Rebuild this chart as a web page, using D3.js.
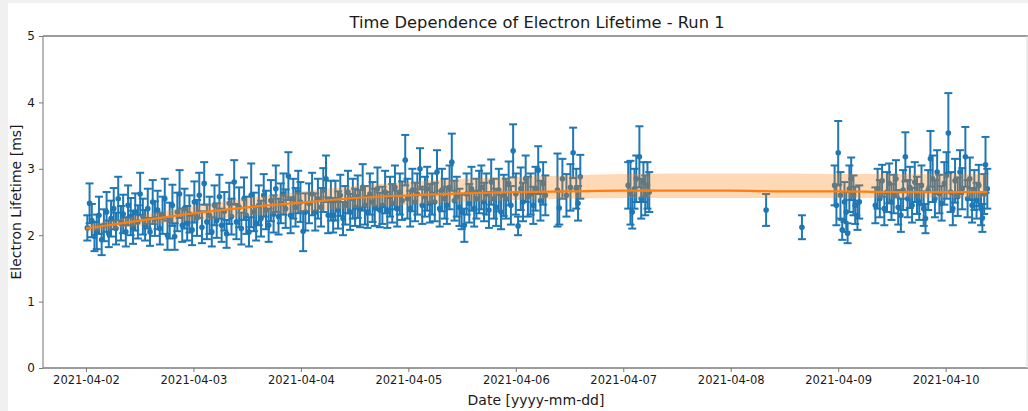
<!DOCTYPE html>
<html>
<head>
<meta charset="utf-8">
<script src="https://cdn.jsdelivr.net/npm/d3@7"></script>
<style>
  html, body { margin: 0; padding: 0; background: #f0f0f0; }
  svg { display: block; }
  text { font-family: "DejaVu Sans", sans-serif; fill: #1a1a1a; }
</style>
</head>
<body>
<svg id="chart" width="1028" height="411"></svg>
<script>
// Measurement times, hours after 2021-04-02 00:00 UTC
const hours = [
  0.3, 0.8, 1.3, 1.9, 2.4, 2.9, 3.5, 4.0, 4.6, 5.1,
  5.6, 6.2, 6.7, 7.2, 7.8, 8.3, 8.9, 9.4, 10.0, 10.5,
  11.0, 11.6, 12.1, 12.7, 13.2, 13.8, 14.3, 14.9, 15.4, 16.0,
  16.5, 17.1, 17.6, 18.2, 18.7, 19.3, 19.8, 20.4, 20.9, 21.5,
  22.0, 22.6, 23.1, 23.7, 24.2, 24.8, 25.3, 25.9, 26.4, 27.0,
  27.6, 28.1, 28.7, 29.2, 29.8, 30.3, 30.9, 31.4, 32.0, 32.5,
  33.1, 33.6, 34.2, 34.7, 35.3, 35.8, 36.4, 36.9, 37.5, 38.0,
  38.6, 39.1, 39.7, 40.2, 40.8, 41.3, 41.9, 42.4, 43.0, 43.5,
  44.1, 44.6, 45.2, 45.7, 46.3, 46.8, 47.4, 47.9, 48.5, 49.0,
  49.8, 50.5, 51.2, 51.8, 52.5, 53.0, 53.6, 54.1, 54.7,
  55.2, 55.7, 56.3, 56.8, 57.4, 57.9, 58.5, 59.0, 59.6, 60.1,
  60.7, 61.2, 61.8, 62.3, 62.9, 63.4, 64.0, 64.5, 65.1, 65.6,
  66.2, 66.8, 67.3, 67.9, 68.4, 69.0, 69.5, 70.1, 70.6, 71.3,
  71.8, 72.4, 72.9, 73.5, 74.0, 74.6, 75.1, 75.7, 76.2, 76.8,
  77.3, 77.9, 78.4, 79.0, 79.5, 80.1, 80.6, 81.2, 81.7, 82.3,
  82.8, 83.4, 83.9, 84.5, 85.0, 85.6, 86.1, 86.7, 87.2, 87.8,
  88.3, 88.9, 89.4, 90.0, 90.5, 91.1, 91.6, 92.2, 92.7, 93.3,
  93.8, 94.4, 94.9, 95.4, 96.0, 96.5, 97.1, 97.6, 98.2, 98.7,
  99.3, 99.9, 100.4, 101.0, 101.5, 102.1, 102.6,
  105.3, 105.7, 106.4, 107.3, 108.2, 108.8, 109.5, 109.9, 110.4,
  121.1, 121.6, 122.0, 122.5, 122.9, 123.6, 124.0, 124.5, 124.9, 125.4, 125.8,
  151.9, 159.9,
  167.2, 167.6, 168.0, 168.5, 168.9, 169.4, 169.8, 170.1, 170.5, 170.9, 171.4, 171.8, 172.3, 172.7,
  176.3, 176.8, 177.3, 177.8, 178.3, 178.9, 179.4, 179.9, 180.4, 180.9,
  181.4, 182.0, 182.5, 183.0, 183.5, 184.0, 184.5, 185.1, 185.6, 186.1,
  186.6, 187.1, 187.5, 188.1, 188.6, 189.1, 189.6, 190.1, 190.6, 191.1,
  191.7, 192.2, 192.6, 193.1, 193.6, 194.1, 194.7, 195.2, 195.7, 196.4,
  196.9, 197.4, 197.9, 198.4, 198.9, 199.4, 199.9, 200.2, 200.6, 200.9, 201.3
];

// Electron lifetime [ms]
const lifetime = [
  2.11, 2.48, 2.22, 1.98, 2.05, 2.30, 1.93, 2.15, 2.35, 2.02,
  2.25, 2.40, 2.10, 2.55, 2.18, 2.32, 2.05, 2.45, 2.28, 2.12,
  2.35, 2.20, 2.62, 2.28, 2.15, 2.40, 2.05, 2.50, 2.25, 2.38,
  2.10, 2.30, 2.55, 2.00, 2.22, 2.45, 1.98, 2.35, 2.62, 2.15,
  2.40, 2.18, 2.32, 2.08, 2.50, 2.26, 2.60, 2.12, 2.78, 2.20,
  2.30, 2.05, 2.45, 2.22, 2.58, 2.15, 2.36, 2.02, 2.48, 2.28,
  2.80, 2.20, 2.42, 2.10, 2.55, 2.30, 2.05, 2.60, 2.35, 2.18,
  2.45, 2.25, 2.60, 2.38, 2.15, 2.52, 2.32, 2.70, 2.28, 2.48,
  2.62, 2.40, 2.89, 2.30, 2.55, 2.42, 2.65, 2.50, 2.06, 2.35,
  2.48, 2.62, 2.35, 2.55, 2.42, 2.68, 2.85, 2.30, 2.52,
  2.30, 2.52, 2.38, 2.60, 2.25, 2.45, 2.65, 2.35, 2.55, 2.42,
  2.58, 2.40, 2.72, 2.45, 2.35, 2.62, 2.50, 2.42, 2.70, 2.38,
  2.45, 2.65, 2.38, 2.58, 2.48, 2.72, 2.40, 2.62, 2.52, 3.13,
  2.55, 2.40, 2.68, 2.50, 2.62, 3.00, 2.45, 2.58, 2.70, 2.48,
  2.62, 2.50, 2.95, 2.40, 2.68, 2.55, 2.45, 2.72, 3.10, 2.52,
  2.58, 2.42, 2.35, 2.15, 2.62, 2.48, 2.70, 2.40, 2.55, 2.65,
  2.72, 2.50, 2.62, 2.38, 2.80, 2.55, 2.42, 2.68, 2.35, 2.60,
  2.55, 2.78, 2.45, 3.27, 2.62, 2.14, 2.70, 2.50, 2.85, 2.58,
  2.62, 2.45, 2.70, 2.98, 2.52, 2.78, 2.60,
  2.68, 2.41, 2.85, 2.60, 2.72, 3.24, 2.70, 2.48, 2.88,
  2.75, 2.64, 2.35, 2.70, 2.85, 3.18, 2.55, 2.80, 2.60, 2.75, 2.65,
  2.38, 2.12,
  2.75, 2.45, 3.24, 2.60, 2.08, 2.50, 2.35, 2.03, 2.70, 2.85, 2.60, 2.45, 2.30, 2.50,
  2.45, 2.70, 2.55, 2.82, 2.40, 2.65, 2.78, 2.50, 2.62, 2.85,
  2.42, 2.30, 2.68, 3.18, 2.55, 2.72, 2.45, 2.80, 2.60, 2.50,
  2.75, 2.40, 2.25, 2.68, 3.15, 2.85, 2.55, 2.95, 2.62, 2.48,
  2.78, 2.90, 3.54, 2.65, 2.40, 2.82, 2.58, 2.95, 2.70, 3.18,
  2.55, 2.85, 2.45, 2.68, 2.52, 2.75, 2.40, 2.26, 2.62, 3.06, 2.70
];

// One-sigma uncertainty on each lifetime [ms]
const lifetimeErr = [
  0.19, 0.30, 0.25, 0.22, 0.26, 0.28, 0.23, 0.24, 0.30, 0.20,
  0.27, 0.31, 0.24, 0.33, 0.26, 0.29, 0.22, 0.30, 0.28, 0.25,
  0.28, 0.25, 0.32, 0.27, 0.23, 0.30, 0.21, 0.33, 0.26, 0.29,
  0.24, 0.28, 0.30, 0.22, 0.27, 0.31, 0.20, 0.29, 0.36, 0.25,
  0.30, 0.26, 0.28, 0.23, 0.31, 0.27, 0.34, 0.24, 0.32, 0.26,
  0.28, 0.22, 0.30, 0.26, 0.33, 0.25, 0.29, 0.21, 0.31, 0.27,
  0.33, 0.26, 0.30, 0.24, 0.32, 0.28, 0.22, 0.48, 0.29, 0.26,
  0.30, 0.27, 0.32, 0.29, 0.25, 0.31, 0.28, 0.35, 0.27, 0.30,
  0.31, 0.29, 0.36, 0.27, 0.30, 0.29, 0.32, 0.30, 0.30, 0.28,
  0.30, 0.32, 0.28, 0.30, 0.29, 0.33, 0.35, 0.27, 0.30,
  0.26, 0.30, 0.28, 0.31, 0.25, 0.29, 0.32, 0.27, 0.30, 0.28,
  0.32, 0.28, 0.35, 0.29, 0.24, 0.31, 0.30, 0.28, 0.32, 0.26,
  0.28, 0.32, 0.27, 0.30, 0.29, 0.33, 0.27, 0.31, 0.29, 0.38,
  0.30, 0.27, 0.32, 0.29, 0.31, 0.31, 0.28, 0.30, 0.33, 0.29,
  0.31, 0.29, 0.33, 0.27, 0.32, 0.30, 0.28, 0.33, 0.43, 0.30,
  0.30, 0.28, 0.26, 0.25, 0.31, 0.29, 0.33, 0.27, 0.30, 0.32,
  0.33, 0.29, 0.31, 0.27, 0.34, 0.30, 0.28, 0.32, 0.26, 0.31,
  0.30, 0.33, 0.29, 0.40, 0.31, 0.14, 0.32, 0.29, 0.35, 0.30,
  0.31, 0.28, 0.33, 0.36, 0.30, 0.32, 0.30,
  0.55, 0.25, 0.30, 0.32, 0.35, 0.38, 0.30, 0.26, 0.33,
  0.35, 0.48, 0.25, 0.30, 0.35, 0.46, 0.30, 0.30, 0.30, 0.35, 0.30,
  0.24, 0.18,
  0.30, 0.30, 0.48, 0.35, 0.15, 0.30, 0.30, 0.15, 0.35, 0.32, 0.30, 0.28, 0.22, 0.25,
  0.27, 0.30, 0.28, 0.24, 0.25, 0.30, 0.30, 0.27, 0.29, 0.28,
  0.26, 0.25, 0.30, 0.37, 0.28, 0.31, 0.26, 0.30, 0.28, 0.27,
  0.30, 0.26, 0.22, 0.30, 0.42, 0.35, 0.28, 0.33, 0.29, 0.26,
  0.32, 0.35, 0.60, 0.30, 0.25, 0.33, 0.29, 0.33, 0.31, 0.45,
  0.28, 0.32, 0.26, 0.30, 0.27, 0.31, 0.25, 0.21, 0.30, 0.42, 0.30
];

// Smoothed trend and its uncertainty band
const fitHours = [0, 12, 24, 36, 48, 60, 72, 84, 96, 108, 120, 132, 144, 156, 168, 180, 192, 201.3];
const fitValue = [2.10, 2.22, 2.33, 2.42, 2.49, 2.56, 2.60, 2.63, 2.65, 2.66, 2.67, 2.67, 2.67, 2.66, 2.66, 2.65, 2.65, 2.65];
const fitUpper = [2.15, 2.30, 2.44, 2.56, 2.66, 2.74, 2.80, 2.85, 2.88, 2.90, 2.92, 2.93, 2.93, 2.93, 2.92, 2.92, 2.92, 2.92];
const fitLower = [2.05, 2.14, 2.22, 2.29, 2.35, 2.41, 2.46, 2.50, 2.53, 2.55, 2.56, 2.56, 2.56, 2.56, 2.56, 2.56, 2.56, 2.56];

const dayTicks = ["2021-04-02", "2021-04-03", "2021-04-04", "2021-04-05", "2021-04-06",
                  "2021-04-07", "2021-04-08", "2021-04-09", "2021-04-10"];
const yTicks = [0, 1, 2, 3, 4, 5];

const titleText = "Time Dependence of Electron Lifetime - Run 1";
const xLabel = "Date [yyyy-mm-dd]";
const yLabel = "Electron Lifetime [ms]";

const start = Date.UTC(2021, 3, 2);
const toDate = h => new Date(start + h * 3600e3);
const parseDay = d3.utcParse("%Y-%m-%d");

const plot = { left: 43, right: 1027, top: 36, bottom: 368 };
const blue = "#1f77b4", orange = "#ff7f0e";

const svg = d3.select("#chart");
svg.append("rect").attr("x", 8).attr("y", 3).attr("width", 1020).attr("height", 408).attr("fill", "#fff");

const x = d3.scaleUtc()
  .domain([new Date(Date.UTC(2021, 3, 1, 14, 24)), new Date(Date.UTC(2021, 3, 10, 18, 10))])
  .range([plot.left, plot.right]);
const y = d3.scaleLinear().domain([0, 5]).range([plot.bottom, plot.top]);

const points = hours.map((h, i) => ({ t: toDate(h), v: lifetime[i], e: lifetimeErr[i] }));

// Error bars with caps
const bars = svg.append("g").attr("stroke", blue).attr("stroke-width", 2).attr("fill", "none");
const capHalf = 4;
points.forEach(p => {
  const px = x(p.t), y0 = y(p.v - p.e), y1 = y(p.v + p.e);
  bars.append("line").attr("x1", px).attr("x2", px).attr("y1", y0).attr("y2", y1);
  bars.append("line").attr("x1", px - capHalf).attr("x2", px + capHalf).attr("y1", y0).attr("y2", y0);
  bars.append("line").attr("x1", px - capHalf).attr("x2", px + capHalf).attr("y1", y1).attr("y2", y1);
});
svg.append("g").attr("fill", blue)
  .selectAll("circle").data(points).join("circle")
  .attr("cx", p => x(p.t)).attr("cy", p => y(p.v)).attr("r", 2.8);

// Trend band and line
const fit = fitHours.map((h, i) => ({ t: toDate(h), v: fitValue[i], hi: fitUpper[i], lo: fitLower[i] }));
svg.append("path").datum(fit)
  .attr("fill", orange).attr("fill-opacity", 0.3)
  .attr("d", d3.area().curve(d3.curveMonotoneX).x(d => x(d.t)).y0(d => y(d.lo)).y1(d => y(d.hi)));
svg.append("path").datum(fit)
  .attr("fill", "none").attr("stroke", orange).attr("stroke-width", 2.2)
  .attr("d", d3.line().curve(d3.curveMonotoneX).x(d => x(d.t)).y(d => y(d.v)));

// Spines
svg.append("line").attr("x1", plot.left).attr("x2", plot.right + 1).attr("y1", plot.top).attr("y2", plot.top)
  .attr("stroke", "#3a3a3a").attr("stroke-width", 1.2);
svg.append("line").attr("x1", plot.left).attr("x2", plot.right + 1).attr("y1", plot.bottom).attr("y2", plot.bottom)
  .attr("stroke", "#3a3a3a").attr("stroke-width", 1.2);
svg.append("line").attr("x1", plot.left).attr("x2", plot.left).attr("y1", plot.top).attr("y2", plot.bottom)
  .attr("stroke", "#8a8a8a").attr("stroke-width", 1.2);
svg.append("line").attr("x1", plot.right).attr("x2", plot.right).attr("y1", plot.top).attr("y2", plot.bottom)
  .attr("stroke", "#d8d8d8").attr("stroke-width", 1);

// Axes
const xAxis = d3.axisBottom(x)
  .tickValues(dayTicks.map(parseDay))
  .tickFormat(d3.utcFormat("%Y-%m-%d"))
  .tickSize(4).tickPadding(4);
const gx = svg.append("g").attr("transform", `translate(0,${plot.bottom})`).call(xAxis);
gx.select(".domain").remove();
gx.selectAll(".tick line").attr("stroke", "#777");
gx.selectAll(".tick text").attr("font-size", 11.5).attr("font-family", "DejaVu Sans").attr("fill", "#1a1a1a");

const yAxis = d3.axisLeft(y).tickValues(yTicks).tickFormat(d3.format("d")).tickSize(4).tickPadding(4);
const gy = svg.append("g").attr("transform", `translate(${plot.left},0)`).call(yAxis);
gy.select(".domain").remove();
gy.selectAll(".tick line").attr("stroke", "#777");
gy.selectAll(".tick text").attr("font-size", 12).attr("font-family", "DejaVu Sans").attr("fill", "#1a1a1a");

// Titles
svg.append("text").attr("x", 537).attr("y", 28).attr("text-anchor", "middle")
  .attr("font-size", 16.3).text(titleText);
svg.append("text").attr("x", 536).attr("y", 405).attr("text-anchor", "middle")
  .attr("font-size", 14).text(xLabel);
svg.append("text").attr("transform", `translate(21,${(plot.top + plot.bottom) / 2}) rotate(-90)`)
  .attr("text-anchor", "middle").attr("font-size", 14).text(yLabel);
</script>
</body>
</html>
